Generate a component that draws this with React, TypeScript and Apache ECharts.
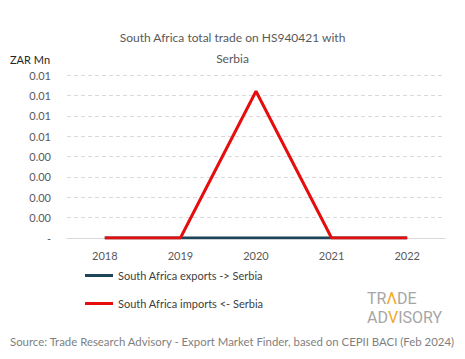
import React, { useEffect, useRef } from "react";
import * as echarts from "echarts";

const years = ["2018", "2019", "2020", "2021", "2022"];
const exportsToSerbia = [0, 0, 0, 0, 0];
const importsFromSerbia = [0, 0, 0.0072, 0, 0];
const titleText = "South Africa total trade on HS940421 with\nSerbia";
const unitLabel = "ZAR Mn";
const sourceText = "Source: Trade Research Advisory - Export Market Finder, based on CEPII BACI (Feb 2024)";
const exportName = "South Africa exports -> Serbia";
const importName = "South Africa imports <- Serbia";

const FONT = "Lato";

function fmtTick(v: number): string {
  const thousandths = Math.round(v * 1000);
  if (thousandths === 0) return "-";
  return (Math.round(thousandths / 10) / 100).toFixed(2);
}

export default function App() {
  const ref = useRef<HTMLDivElement>(null);
  useEffect(() => {
    document.body.style.margin = "0";
    if (!ref.current) return;
    const chart = echarts.init(ref.current, null, { renderer: "svg" });
    chart.setOption({
      animation: false,
      backgroundColor: "#ffffff",
      textStyle: { fontFamily: FONT },
      title: {
        text: titleText,
        left: "center",
        top: 22,
        textStyle: { fontFamily: FONT, fontSize: 12, fontWeight: "normal", color: "#595959", lineHeight: 21 },
      },
      grid: { left: 67, right: 20, top: 75, bottom: 121 },
      legend: {
        orient: "vertical",
        left: 80,
        top: 265,
        itemWidth: 28,
        itemHeight: 3,
        itemGap: 17,
        textStyle: { fontFamily: FONT, fontSize: 11, color: "#404040" },
        data: [
          { name: exportName, icon: "rect" },
          { name: importName, icon: "rect" },
        ],
      },
      xAxis: {
        type: "category",
        data: years,
        boundaryGap: true,
        axisLine: { lineStyle: { color: "#d9d9d9", width: 1 } },
        axisTick: { show: false },
        axisLabel: { color: "#595959", fontSize: 11, margin: 12, fontFamily: FONT },
      },
      yAxis: {
        type: "value",
        min: 0,
        max: 0.008,
        interval: 0.001,
        axisLine: { show: false },
        axisTick: { show: false },
        splitLine: { lineStyle: { color: "#d9d9d9", type: [4, 3], width: 1 } },
        axisLabel: {
          color: "#595959",
          fontSize: 11,
          margin: 16,
          fontFamily: FONT,
          formatter: fmtTick,
        },
      },
      series: [
        {
          name: exportName,
          type: "line",
          data: exportsToSerbia,
          symbol: "none",
          lineStyle: { color: "#1d4459", width: 3 },
          itemStyle: { color: "#1d4459" },
        },
        {
          name: importName,
          type: "line",
          data: importsFromSerbia,
          symbol: "none",
          lineStyle: { color: "#e60d0d", width: 3 },
          itemStyle: { color: "#e60d0d" },
        },
      ],
      graphic: [
        {
          type: "text",
          left: 10,
          top: 54,
          style: { text: unitLabel, fontFamily: FONT, fontSize: 11, fill: "#262626" },
        },
        {
          type: "text",
          left: 10,
          top: 336,
          style: { text: sourceText, fontFamily: FONT, fontSize: 11.4, fill: "#7f7f7f" },
        },
        {
          type: "text",
          left: 367,
          top: 290,
          style: {
            text: "TR{o|Λ}DE",
            fontFamily: "Roboto",
            fontSize: 16,
            lineHeight: 16,
            fill: "#a6a6a6",
            rich: { o: { fontFamily: "Roboto", fontSize: 16, lineHeight: 16, fill: "#f5a623" } },
          },
        },
        {
          type: "text",
          left: 367,
          top: 309,
          style: {
            text: "AD{o|V}ISORY",
            fontFamily: "Roboto",
            fontSize: 16,
            lineHeight: 16,
            fill: "#a6a6a6",
            rich: { o: { fontFamily: "Roboto", fontSize: 16, lineHeight: 16, fill: "#f5a623" } },
          },
        },
      ],
    });
    return () => chart.dispose();
  }, []);
  return <div ref={ref} style={{ width: 465, height: 359 }} />;
}
